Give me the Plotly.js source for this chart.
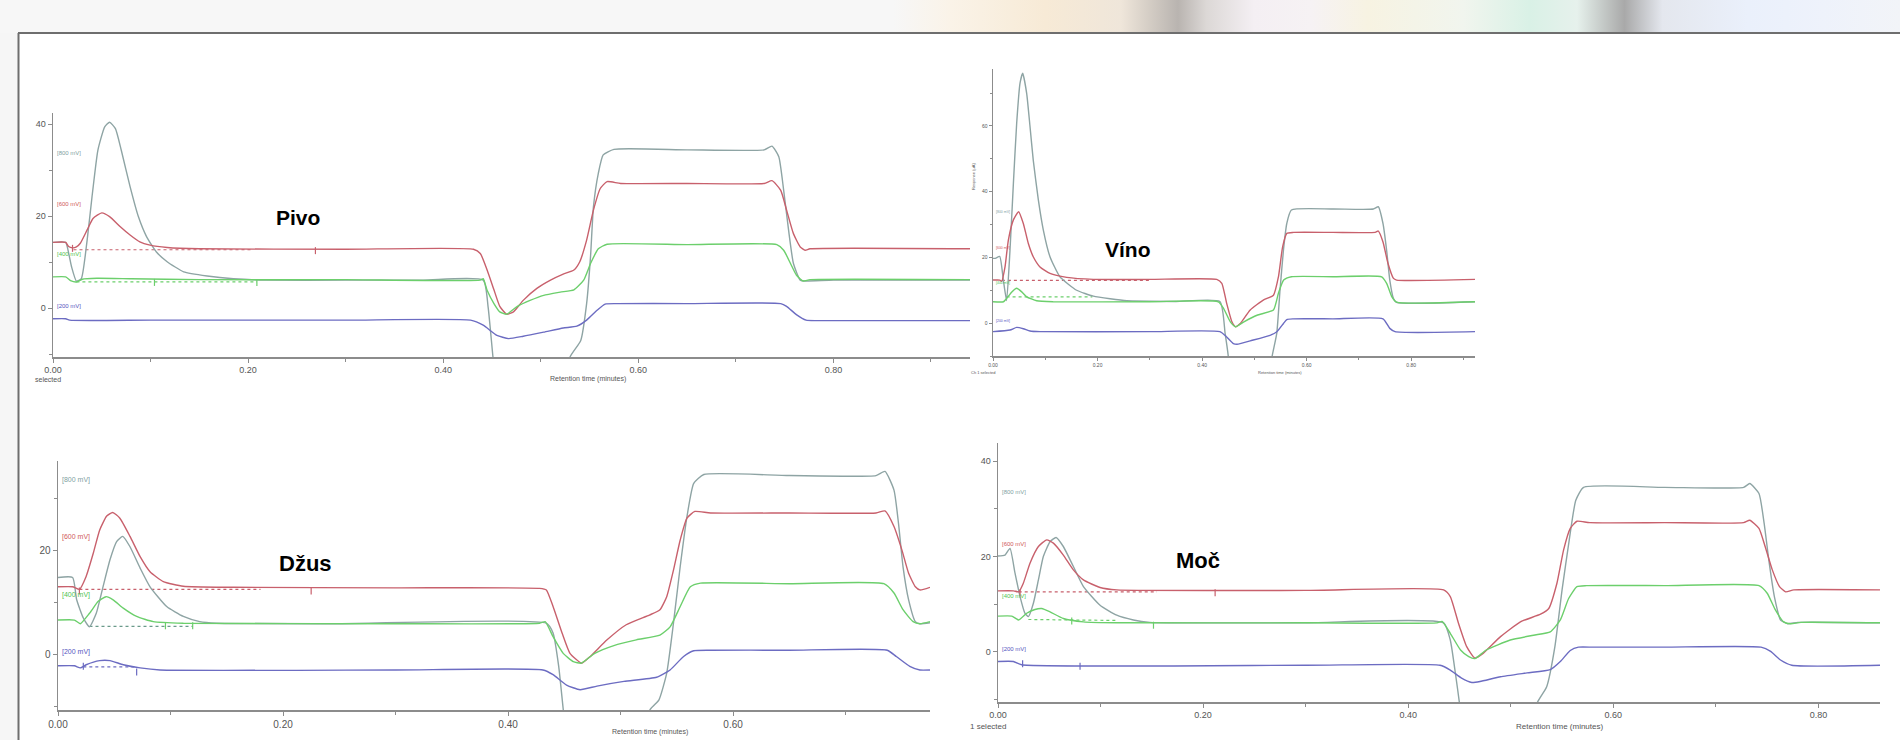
<!DOCTYPE html>
<html>
<head>
<meta charset="utf-8">
<script src="https://cdn.plot.ly/plotly-3.0.1.min.js"></script>
<style>
  html, body { margin: 0; padding: 0; background: #f6f6f6; }
  #chart {
    width: 1900px; height: 740px;
    background:
      linear-gradient(to right, #f7f7f7 0%, #f7f7f7 47%, #faf3e8 50%, #f7ead6 55%, #efe6da 59%, #b9b4b0 62%, #dcd8d6 63.5%, #f4eff3 66%, #f6f2f4 69%, #f7f3e2 72%, #f1f5ee 77%, #d9f1e6 80.5%, #e6f1ec 83%, #a9a9a9 85.5%, #e4e7ee 87.5%, #eaf0fb 92%, #eef2fb 96%, #f2f4f8 100%) top left / 100% 33px no-repeat,
      #f6f6f6;
  }
</style>
</head>
<body>
<div id="chart"></div>
<script>
// ---------------- DATA ----------------
const panelNames = ["Pivo", "Víno", "Džus", "Moč"];
const channelLabels = ["[800 mV]", "[600 mV]", "[400 mV]", "[200 mV]"];

// Pivo
const pivoGrayX = [0,0.013,0.016,0.019,0.024,0.029,0.035,0.040,0.046,0.053,0.058,0.064,0.070,0.079,0.0875,0.096,0.106,0.117,0.134,0.158,0.185,0.219,0.30,0.38,0.441,0.446,0.451,0.456,0.52,0.530,0.541,0.547,0.551,0.554,0.559,0.564,0.575,0.65,0.729,0.737,0.744,0.749,0.754,0.759,0.766,0.771,0.80,0.94];
const pivoGrayY = [14.3,14.3,12.0,9.0,5.9,6.4,14.8,24.2,34.3,39.4,40.4,39.0,34.3,26.4,19.9,15.5,12.2,10.1,7.9,7.0,6.4,6.1,6.1,6.1,6.1,0.3,-10.6,-20,-20,-10.6,-7,1.0,11.2,22,29.3,33.3,34.5,34.4,34.4,35.2,32.9,25.6,17,9.7,6.1,5.9,6.1,6.1];
const pivoRedX = [0,0.013,0.016,0.020,0.024,0.028,0.035,0.041,0.050,0.058,0.069,0.079,0.089,0.0995,0.117,0.15,0.30,0.431,0.438,0.445,0.452,0.458,0.465,0.472,0.482,0.496,0.510,0.523,0.534,0.540,0.547,0.554,0.561,0.568,0.582,0.65,0.729,0.737,0.746,0.752,0.759,0.766,0.771,0.776,0.94];
const pivoRedY = [14.3,14.3,13.4,13.1,13.3,14.1,17.0,19.5,20.7,19.9,17.7,15.9,14.4,13.7,13.2,12.9,12.8,12.8,11.9,8.3,4.0,0.4,-1.3,-0.8,1.7,4.3,6.1,7.4,8.3,10.1,14.8,21.3,26.0,27.5,27.1,27.1,27.1,27.7,25.6,21.3,16.2,13.3,12.6,12.9,12.9];
const pivoGreenX = [0,0.013,0.018,0.024,0.030,0.045,0.08,0.15,0.30,0.438,0.441,0.445,0.452,0.458,0.465,0.476,0.489,0.503,0.520,0.534,0.544,0.551,0.559,0.568,0.65,0.742,0.749,0.756,0.762,0.769,0.776,0.94];
const pivoGreenY = [6.8,6.8,6.0,5.7,6.3,6.5,6.4,6.2,6.2,6.1,6.4,3.9,1.0,-0.8,-1.3,0.4,1.7,2.8,3.5,4.0,6.1,9.7,12.9,13.9,13.8,13.8,12.6,9.7,7.2,5.9,6.2,6.2];
const pivoBlueX = [0,0.013,0.017,0.10,0.30,0.428,0.441,0.455,0.467,0.482,0.503,0.523,0.537,0.547,0.558,0.566,0.578,0.65,0.746,0.752,0.762,0.772,0.783,0.94];
const pivoBlueY = [-2.3,-2.3,-2.6,-2.6,-2.6,-2.6,-3.7,-5.9,-6.6,-6.1,-5.2,-4.3,-3.9,-2.6,-0.4,0.9,1.0,1.0,1.0,0.4,-1.4,-2.6,-2.7,-2.7];
const pivoBaseRedX = [0.021, 0.205], pivoBaseRedY = [12.7, 12.7];
const pivoBaseGreenX = [0.024, 0.209], pivoBaseGreenY = [5.7, 5.7];
const pivoLabelY = [33.7, 22.6, 11.7, 0.4];

// Víno
const vinoGrayX = [0,0.0045,0.0128,0.0198,0.026,0.0325,0.039,0.0453,0.0517,0.0568,0.0644,0.0708,0.077,0.0868,0.0963,0.109,0.128,0.160,0.192,0.224,0.256,0.35,0.434,0.444,0.450,0.455,0.525,0.534,0.5428,0.549,0.5556,0.562,0.5708,0.65,0.7275,0.737,0.746,0.753,0.759,0.766,0.772,0.922];
const vinoGrayY = [19.7,19.7,20.3,13.1,6.9,22.2,42.5,60.8,73.0,76.0,69.9,59.8,49.6,37.4,28.3,20.2,14.1,10.0,8.2,7.4,6.8,6.6,6.6,-3.1,-10,-20,-20,-10,-3.1,10.0,22.2,30.3,34.4,34.7,34.7,35.4,30.3,22.1,13.1,7.5,6.3,6.5];
const vinoRedX = [0,0.013,0.0166,0.023,0.0293,0.039,0.049,0.058,0.0676,0.077,0.0899,0.109,0.141,0.192,0.30,0.428,0.4377,0.447,0.457,0.464,0.473,0.492,0.517,0.5365,0.546,0.554,0.562,0.575,0.65,0.731,0.737,0.746,0.7555,0.766,0.772,0.922];
const vinoRedY = [13.1,13.1,12.7,17.1,25.2,31.4,33.9,30.3,24.2,20.2,17.1,15.1,13.9,13.3,13.3,13.3,12.1,6.0,0.4,-1.1,-0.1,4.0,7.0,8.5,14.1,23.2,27.3,27.6,27.6,27.6,28.0,24.7,18.2,13.6,13.1,13.3];
const vinoGreenX = [0,0.02,0.026,0.036,0.0453,0.055,0.0644,0.0835,0.115,0.30,0.431,0.441,0.454,0.464,0.48,0.505,0.5365,0.546,0.556,0.5708,0.65,0.7435,0.753,0.763,0.772,0.922];
const vinoGreenY = [6.5,6.5,7.5,9.5,10.6,9.5,8.0,6.8,6.5,6.5,6.5,4.5,0.4,-1.1,0.4,2.4,4.0,9.1,13.1,14.1,14.1,14.1,12.1,8.0,6.4,6.5];
const vinoBlueX = [0,0.0325,0.0453,0.058,0.0708,0.0899,0.30,0.434,0.447,0.4597,0.469,0.492,0.530,0.543,0.5556,0.562,0.575,0.65,0.746,0.759,0.769,0.922];
const vinoBlueY = [-2.6,-2.1,-1.3,-1.7,-2.4,-2.6,-2.6,-2.6,-4.2,-6.2,-6.4,-5.4,-3.7,-2.6,-0.1,1.1,1.3,1.3,1.3,-1.6,-2.6,-2.6];
const vinoBaseRedX = [0.017, 0.30], vinoBaseRedY = [13.0, 13.0];
const vinoBaseGreenX = [0.026, 0.19], vinoBaseGreenY = [8.0, 8.0];
const vinoLabelY = [33.9, 23.0, 12.1, 0.7];

// Džus
const dzusGrayX = [0,0.013,0.0166,0.0225,0.028,0.034,0.040,0.0462,0.0521,0.0575,0.064,0.073,0.0818,0.0966,0.1114,0.126,0.141,0.25,0.434,0.440,0.445,0.449,0.454,0.52,0.526,0.534,0.541,0.547,0.553,0.559,0.565,0.574,0.65,0.727,0.735,0.743,0.747,0.751,0.756,0.762,0.766,0.775];
const dzusGrayY = [14.9,14.9,10.6,7.1,5.4,8.0,13.1,18.3,21.8,22.8,20.8,16.7,13.1,9.3,7.4,6.4,6.1,6.0,6.1,4.2,-2.2,-10.4,-20,-20,-10.6,-8.7,-3.5,6.1,17.0,26.6,33.0,34.7,34.5,34.5,35.3,31.7,25.3,17.0,10.6,6.4,6.0,6.2];
const dzusRedX = [0,0.013,0.019,0.025,0.0314,0.037,0.0433,0.0486,0.055,0.064,0.073,0.0818,0.0936,0.1114,0.156,0.30,0.428,0.434,0.440,0.448,0.455,0.4654,0.473,0.488,0.505,0.526,0.535,0.541,0.547,0.553,0.559,0.566,0.580,0.65,0.727,0.735,0.743,0.750,0.756,0.762,0.766,0.775];
const dzusRedY = [13.1,13.1,12.6,15.1,19.6,24.0,26.7,27.4,26.3,22.8,18.9,16.0,14.1,13.2,13.0,12.9,12.8,12.5,9.3,4.2,0.3,-1.6,-0.3,2.9,5.8,7.7,8.7,11.2,16.3,22.1,26.3,27.6,27.3,27.3,27.3,27.7,24.7,20.2,15.7,13.1,12.5,13.0];
const dzusGreenX = [0,0.0146,0.0198,0.028,0.0358,0.0427,0.049,0.058,0.0699,0.0847,0.1114,0.30,0.428,0.433,0.440,0.449,0.458,0.465,0.477,0.494,0.514,0.535,0.544,0.553,0.562,0.571,0.65,0.734,0.743,0.751,0.760,0.766,0.775];
const dzusGreenY = [6.7,6.7,6.0,8.0,10.3,11.2,10.6,9.0,7.4,6.4,6.1,6.0,6.1,6.4,3.5,0.3,-1.3,-1.6,0.3,1.8,2.9,3.8,5.4,9.3,13.1,13.8,13.7,13.7,11.9,8.7,6.4,6.0,6.4];
const dzusBlueX = [0,0.0146,0.0198,0.025,0.037,0.0462,0.058,0.073,0.0907,0.30,0.431,0.440,0.452,0.464,0.479,0.503,0.532,0.544,0.556,0.565,0.580,0.65,0.737,0.745,0.757,0.766,0.775];
const dzusBlueY = [-2.1,-2.1,-2.5,-1.9,-1.1,-1.1,-1.9,-2.5,-2.9,-2.9,-2.9,-3.8,-5.8,-6.7,-6.0,-5.1,-4.3,-2.9,-0.3,0.8,0.9,0.9,0.9,-0.3,-2.2,-2.9,-2.9];
const dzusBaseRedX = [0.019, 0.18], dzusBaseRedY = [12.6, 12.6];
const dzusBaseGreenX = [0.028, 0.12], dzusBaseGreenY = [5.5, 5.5];
const dzusBaseBlueX = [0.0225, 0.07], dzusBaseBlueY = [-2.3, -2.3];
const dzusLabelY = [33.7, 22.7, 11.5, 0.5];

// Moč
const mocGrayX = [0,0.0068,0.0117,0.0166,0.0215,0.0263,0.0296,0.0345,0.0394,0.0442,0.0507,0.0566,0.0637,0.0735,0.0833,0.0995,0.1158,0.132,0.148,0.30,0.4345,0.441,0.446,0.450,0.455,0.52,0.5255,0.535,0.543,0.550,0.557,0.5634,0.571,0.65,0.727,0.733,0.742,0.747,0.752,0.757,0.763,0.770,0.780,0.86];
const mocGrayY = [20.1,20.3,21.7,16.5,11.6,8.1,7.4,10.2,15.1,20.0,23.1,24.0,22.1,17.9,13.7,9.8,7.7,6.7,6.2,6.1,6.1,2.5,-4.5,-10.8,-20,-20,-10.8,-7.3,1.1,13.0,23.5,31.8,34.5,34.5,34.5,35.3,33.2,27.0,18.6,11.6,6.7,5.9,6.2,6.1];
const mocRedX = [0,0.0150,0.0202,0.0247,0.0312,0.0394,0.0475,0.054,0.0637,0.0735,0.0833,0.0995,0.1158,0.30,0.4345,0.441,0.449,0.457,0.465,0.473,0.490,0.5094,0.529,0.537,0.545,0.5515,0.558,0.5645,0.577,0.65,0.727,0.733,0.742,0.748,0.755,0.762,0.768,0.776,0.86];
const mocRedY = [12.8,12.8,12.6,14.4,18.6,22.1,23.5,22.8,20.3,17.2,15.1,13.5,13.0,12.9,13.0,11.6,6.0,1.1,-1.3,-0.3,3.2,6.3,7.9,9.1,14.4,21.4,25.9,27.4,27.1,27.1,27.1,27.6,25.9,22.1,17.2,13.7,12.6,13.0,13.0];
const mocGreenX = [0,0.0134,0.0202,0.028,0.036,0.0426,0.0507,0.0637,0.0833,0.1158,0.30,0.428,0.433,0.441,0.451,0.459,0.465,0.476,0.4995,0.5222,0.5385,0.5483,0.5564,0.5645,0.574,0.65,0.742,0.750,0.758,0.766,0.773,0.783,0.86];
const mocGreenY = [7.5,7.5,6.7,8.1,8.9,9.1,8.4,7.0,6.3,6.1,6.1,6.1,6.4,3.9,0.4,-1.0,-1.4,0.4,2.5,3.5,4.2,6.7,11.2,13.7,13.9,13.9,13.9,12.3,8.8,6.3,5.9,6.2,6.1];
const mocBlueX = [0,0.0150,0.0231,0.30,0.431,0.441,0.452,0.462,0.470,0.490,0.5158,0.5385,0.5483,0.558,0.566,0.5808,0.65,0.744,0.7534,0.763,0.774,0.86];
const mocBlueY = [-2.0,-2.0,-2.7,-2.8,-2.8,-3.8,-5.5,-6.4,-6.2,-5.2,-4.4,-3.7,-2.0,0.3,1.0,1.0,1.0,1.0,0.1,-1.7,-2.8,-2.8];
const mocBaseRedX = [0.0202, 0.155], mocBaseRedY = [12.6, 12.6];
const mocBaseGreenX = [0.0296, 0.115], mocBaseGreenY = [6.8, 6.6];
const mocLabelY = [33.6, 22.6, 11.7, 0.6];

// peak-marker ticks on the baselines
const pivoMarkX = [0.020, 0.269, 0.104, 0.209], pivoMarkY = [13.0, 12.5, 5.6, 5.6];
const dzusMarkX = [0.019, 0.225, 0.0955, 0.1197, 0.0225, 0.0699], dzusMarkY = [12.3, 12.3, 5.6, 5.6, -2.2, -3.3];
const mocMarkX = [0.0215, 0.2117, 0.0719, 0.1516, 0.024, 0.080], mocMarkY = [12.4, 12.4, 6.5, 5.6, -2.5, -3.0];

// ---------------- STYLE ----------------
const W = 1900, H = 740;
const colGray = '#8ea4a4', colRed = '#c8606c', colGreen = '#6ccf6c', colBlue = '#6c6cc2';
const labelCols = ['#7f9f9f', '#d05a5a', '#4fc44f', '#5656c0'];
const markCols = [colRed, colRed, colGreen, colGreen, colBlue, colBlue];

// pixel boxes of the four plot areas: [left, right, top, bottom]
const boxes = [[53, 970, 113, 357], [993, 1475, 69, 356], [58, 930, 461, 710], [998, 1880, 443, 702]];
const xRanges = [[0, 0.94], [0, 0.922], [0, 0.775], [0, 0.86]];
const yRanges = [[-10.6, 42.4], [-10, 77.3], [-10.6, 37.3], [-10.5, 43.8]];
const tickSizes = [9, 5, 10, 9];

const series = [
  [[pivoGrayX, pivoGrayY], [pivoRedX, pivoRedY], [pivoGreenX, pivoGreenY], [pivoBlueX, pivoBlueY]],
  [[vinoGrayX, vinoGrayY], [vinoRedX, vinoRedY], [vinoGreenX, vinoGreenY], [vinoBlueX, vinoBlueY]],
  [[dzusGrayX, dzusGrayY], [dzusRedX, dzusRedY], [dzusGreenX, dzusGreenY], [dzusBlueX, dzusBlueY]],
  [[mocGrayX, mocGrayY], [mocRedX, mocRedY], [mocGreenX, mocGreenY], [mocBlueX, mocBlueY]]
];
const baselines = [
  [[pivoBaseRedX, pivoBaseRedY, colRed], [pivoBaseGreenX, pivoBaseGreenY, colGreen]],
  [[vinoBaseRedX, vinoBaseRedY, colRed], [vinoBaseGreenX, vinoBaseGreenY, colGreen]],
  [[dzusBaseRedX, dzusBaseRedY, colRed], [dzusBaseGreenX, dzusBaseGreenY, '#6a9a8a'], [dzusBaseBlueX, dzusBaseBlueY, colBlue]],
  [[mocBaseRedX, mocBaseRedY, colRed], [mocBaseGreenX, mocBaseGreenY, colGreen]]
];
const marks = [[pivoMarkX, pivoMarkY], null, [dzusMarkX, dzusMarkY], [mocMarkX, mocMarkY]];
const labelYs = [pivoLabelY, vinoLabelY, dzusLabelY, mocLabelY];
const seriesCols = [colGray, colRed, colGreen, colBlue];

const traces = [];
const layout = {
  width: W, height: H,
  margin: {l: 0, r: 0, t: 0, b: 0},
  paper_bgcolor: 'rgba(0,0,0,0)',
  plot_bgcolor: 'rgba(0,0,0,0)',
  showlegend: false,
  font: {family: 'Liberation Sans, Arial, sans-serif', color: '#555'},
  shapes: [
    {type: 'rect', xref: 'paper', yref: 'paper', x0: 18 / W, x1: 1, y0: 0, y1: 1 - 33 / H,
     fillcolor: '#ffffff', line: {width: 0}, layer: 'below'},
    {type: 'line', xref: 'paper', yref: 'paper', x0: 18 / W, x1: 1, y0: 1 - 33 / H, y1: 1 - 33 / H,
     line: {color: '#6e6e6e', width: 2}},
    {type: 'line', xref: 'paper', yref: 'paper', x0: 18.5 / W, x1: 18.5 / W, y0: 0, y1: 1 - 33 / H,
     line: {color: '#6e6e6e', width: 2}}
  ],
  annotations: []
};

boxes.forEach((b, i) => {
  const sfx = i === 0 ? '' : String(i + 1);
  const xa = 'x' + sfx, ya = 'y' + sfx;
  const axCommon = {
    showgrid: false, zeroline: false, showline: true, linecolor: '#8c8c8c', linewidth: 1.5,
    ticks: 'outside', tickcolor: '#8c8c8c', ticklen: i === 1 ? 3 : 4, tickwidth: 1,
    tickfont: {size: tickSizes[i], color: '#555', family: 'Liberation Sans, Arial, sans-serif'},
    fixedrange: true
  };
  layout['xaxis' + sfx] = Object.assign({}, axCommon, {
    domain: [b[0] / W, b[1] / W], range: xRanges[i], anchor: ya,
    tick0: 0, dtick: 0.2, tickformat: '.2f',
    minor: {dtick: 0.1, ticks: 'outside', ticklen: i === 1 ? 2 : 3, tickcolor: '#8c8c8c', showgrid: false}
  });
  layout['yaxis' + sfx] = Object.assign({}, axCommon, {
    domain: [1 - b[3] / H, 1 - b[2] / H], range: yRanges[i], anchor: xa,
    tick0: 0, dtick: 20,
    minor: {dtick: 10, ticks: 'outside', ticklen: i === 1 ? 2 : 3, tickcolor: '#8c8c8c', showgrid: false}
  });

  baselines[i].forEach(bl => {
    traces.push({x: bl[0], y: bl[1], xaxis: xa, yaxis: ya, mode: 'lines', hoverinfo: 'skip',
      line: {color: bl[2], width: 1.2, dash: 'dot'}});
  });
  series[i].forEach((s, k) => {
    traces.push({x: s[0], y: s[1], xaxis: xa, yaxis: ya, mode: 'lines', hoverinfo: 'skip',
      line: {color: seriesCols[k], width: 1.4, shape: 'spline', smoothing: 0.5}});
  });
  if (marks[i]) {
    traces.push({x: marks[i][0], y: marks[i][1], xaxis: xa, yaxis: ya, mode: 'markers', hoverinfo: 'skip',
      marker: {symbol: 'line-ns', size: 5, line: {width: 1.2, color: markCols.slice(0, marks[i][0].length)}}});
  }
  // channel labels
  labelYs[i].forEach((ly, k) => {
    layout.annotations.push({x: 0.002, y: ly, xref: xa, yref: ya, text: channelLabels[k], showarrow: false,
      xanchor: 'left', yanchor: 'middle', font: {size: i === 1 ? 3.5 : (i === 2 ? 7 : 6), color: labelCols[k]}});
  });
});

// sample names
const nameSpecs = [
  {x: 0.251, y: 19.6, xref: 'x', yref: 'y', size: 21, family: 'Liberation Sans, Arial, sans-serif'},
  {x: 0.258, y: 22.5, xref: 'x2', yref: 'y2', size: 21, family: 'Liberation Sans Narrow, Liberation Sans, Arial, sans-serif'},
  {x: 0.22, y: 17.5, xref: 'x3', yref: 'y3', size: 22, family: 'Liberation Sans, Arial, sans-serif'},
  {x: 0.195, y: 19.1, xref: 'x4', yref: 'y4', size: 22, family: 'Liberation Sans, Arial, sans-serif'}
];
nameSpecs.forEach((n, i) => {
  layout.annotations.push({x: n.x, y: n.y, xref: n.xref, yref: n.yref, text: '<b>' + panelNames[i] + '</b>',
    showarrow: false, xanchor: 'center', yanchor: 'middle', font: {size: n.size, color: '#000', family: n.family}});
});

// small axis texts (pixel positions)
function pTxt(text, px, py, size, xanchor, angle) {
  layout.annotations.push({x: px / W, y: 1 - py / H, xref: 'paper', yref: 'paper', text: text, showarrow: false,
    xanchor: xanchor || 'center', yanchor: 'middle', textangle: angle || 0, font: {size: size, color: '#555'}});
}
pTxt('Retention time (minutes)', 588, 379, 7);
pTxt('selected', 63, 379, 7, 'right');
pTxt('Retention time (minutes)', 1280, 373, 4);
pTxt('Ch 1 selected', 983, 373, 4);
pTxt('Response (µA)', 973, 177, 4, 'center', -90);
pTxt('Retention time (minutes)', 650, 732, 7);
pTxt('1 selected', 988, 726, 8);
pTxt('Retention time (minutes)', 1559, 726, 8);

Plotly.newPlot('chart', traces, layout, {staticPlot: true, displayModeBar: false});
</script>
</body>
</html>
